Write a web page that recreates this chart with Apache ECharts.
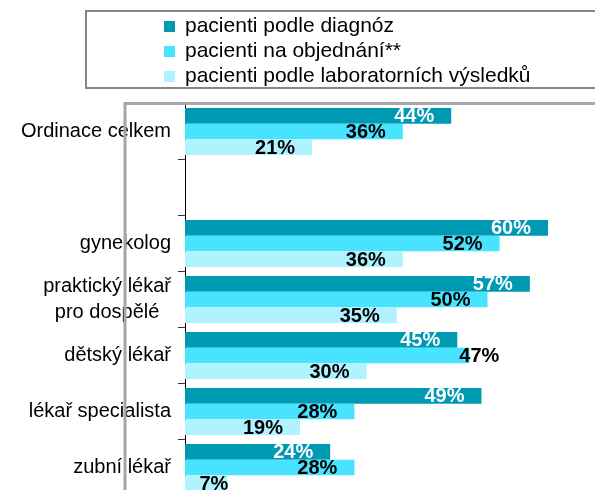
<!DOCTYPE html>
<html>
<head>
<meta charset="utf-8">
<script src="https://cdn.jsdelivr.net/npm/echarts@6/dist/echarts.min.js"></script>
<style>
  html, body { margin: 0; padding: 0; background: #fff; width: 595px; height: 490px; overflow: hidden; }
  /* graf je oříznutý oknem - plocha pokračuje vpravo a dolů */
  #chart { width: 820px; height: 600px; }
</style>
</head>
<body>
<div id="chart"></div>
<script>
  // kategorie (prázdná = mezera mezi celkem a odbornostmi)
  const categories = ['Ordinace celkem', '', 'gynekolog', 'praktický lékař\npro dospělé', 'dětský lékař', 'lékař specialista', 'zubní lékař'];
  const seriesNames = ['pacienti podle diagnóz', 'pacienti na objednání**', 'pacienti podle laboratorních výsledků'];
  // hodnoty v %
  const diagnozy = [44, null, 60, 57, 45, 49, 24];
  const objednani = [36, null, 52, 50, 47, 28, 28];
  const laborator = [21, null, 36, 35, 30, 19, 7];

  const colors = ['#0099B3', '#48E3FF', '#AFF3FF'];
  const labelColors = ['#fff', '#000', '#000'];
  // ručně posunuté popisky [série, index] -> offset
  const movedLabels = { '1-4': [47, 1], '2-6': [18, 1] };

  const chart = echarts.init(document.getElementById('chart'));
  const font = 'Liberation Sans, Arial, sans-serif';

  function makeSeries(i, values) {
    return {
      name: seriesNames[i],
      type: 'bar',
      barWidth: 15.6,
      barGap: '0%',
      itemStyle: { color: colors[i] },
      label: {
        show: true,
        position: 'insideRight',
        distance: 17,
        offset: [0, 1],
        formatter: '{c}%',
        color: labelColors[i],
        fontFamily: font,
        fontSize: 20,
        fontWeight: 'bold'
      },
      data: values.map(function (v, j) {
        const off = movedLabels[i + '-' + j];
        return off ? { value: v, label: { offset: off } } : v;
      })
    };
  }

  const option = {
    animation: false,
    legend: {
      orient: 'vertical',
      left: 164,
      top: 14,
      padding: 0,
      itemGap: 0,
      itemWidth: 11,
      itemHeight: 11,
      icon: 'rect',
      textStyle: { color: '#000', fontFamily: font, fontSize: 21, lineHeight: 25, padding: [0, 0, 0, 5] },
      data: seriesNames
    },
    grid: {
      left: 185,
      top: 103.5,
      width: 605,
      height: 392
    },
    xAxis: {
      type: 'value',
      min: 0,
      max: 100,
      show: false
    },
    yAxis: {
      type: 'category',
      inverse: true,
      data: categories,
      axisLine: { show: true, lineStyle: { color: '#000', width: 1 } },
      axisTick: { show: true, length: 7, lineStyle: { color: '#333' } },
      axisLabel: {
        margin: 14,
        color: '#000',
        fontFamily: font,
        fontSize: 20,
        formatter: function (v) {
          return v.split('\n').map(function (s) { return '{c|' + s + '}'; }).join('\n');
        },
        rich: {
          c: { align: 'center', fontFamily: font, fontSize: 20, lineHeight: 26, color: '#000' }
        }
      },
      splitLine: { show: false }
    },
    graphic: [
      {
        type: 'rect', z: 100, silent: true,
        shape: { x: 125, y: 103.5, width: 700, height: 600 },
        style: { fill: 'none', stroke: '#A6A6A6', lineWidth: 3 }
      },
      {
        type: 'rect', z: 100, silent: true,
        shape: { x: 86, y: 11, width: 700, height: 77 },
        style: { fill: 'none', stroke: '#868686', lineWidth: 2 }
      }
    ],
    series: [
      makeSeries(0, diagnozy),
      makeSeries(1, objednani),
      makeSeries(2, laborator)
    ]
  };

  chart.setOption(option);
</script>
</body>
</html>
